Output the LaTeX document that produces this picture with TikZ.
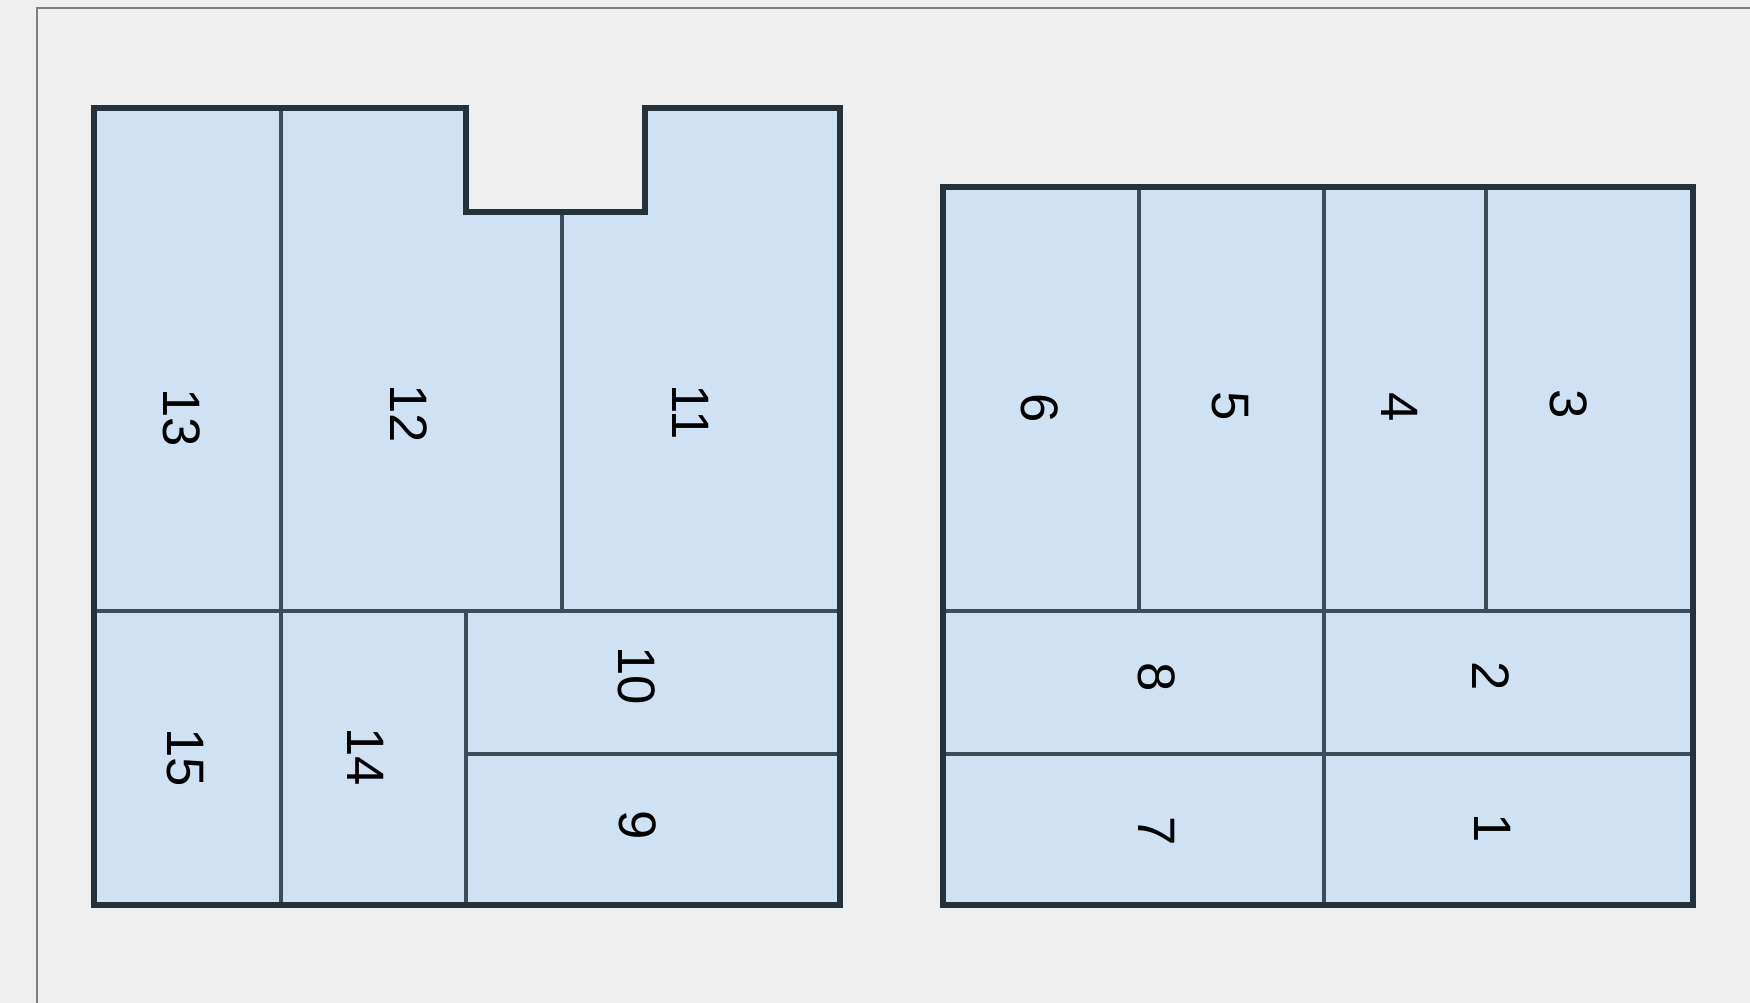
\documentclass[tikz,border=0pt]{standalone}
\usepackage{fontspec}
\setmainfont{Liberation Sans}
\usepackage{xcolor}
\usepackage{tikz}
\usetikzlibrary{positioning,calc}

\definecolor{paper}{HTML}{EFEFEF}
\definecolor{roomfill}{HTML}{CEE2F3}
\definecolor{wall}{HTML}{25323C}
\definecolor{partition}{HTML}{3C4C58}
\definecolor{framegrey}{HTML}{7E7E7E}

\begin{document}
\begin{tikzpicture}[every node/.style={font=\fontsize{15}{15}\selectfont, align=center}]
  \tikzset{
    outerwall/.style={draw=wall, line width=1.5pt, fill=roomfill, line join=miter},
    innerwall/.style={draw=partition, line width=1.05pt},
    roomlabel/.style={rotate=-90, inner sep=0pt}
  }

  % page and frame
  \fill[paper] (0,0) rectangle (17.5,10.03);
  \useasboundingbox (0,0) rectangle (17.5,10.03);
  \draw[framegrey, line width=0.7pt] (0.37,0) -- (0.37,9.95) -- (17.5,9.95);

  % left block with notch
  \draw[outerwall] (0.94,0.98) -- (0.94,8.95) -- (4.66,8.95) -- (4.66,7.91)
      -- (6.45,7.91) -- (6.45,8.95) -- (8.40,8.95) -- (8.40,0.98) -- cycle;
  \draw[innerwall] (2.81,0.98) -- (2.81,8.95);
  \draw[innerwall] (0.94,3.92) -- (8.40,3.92);
  \draw[innerwall] (5.62,3.92) -- (5.62,7.91);
  \draw[innerwall] (4.66,0.98) -- (4.66,3.92);
  \draw[innerwall] (4.66,2.49) -- (8.40,2.49);

  % right block
  \draw[outerwall] (9.43,0.98) rectangle (16.93,8.16);
  \draw[innerwall] (11.39,3.92) -- (11.39,8.16);
  \draw[innerwall] (13.24,0.98) -- (13.24,8.16);
  \draw[innerwall] (14.86,3.92) -- (14.86,8.16);
  \draw[innerwall] (9.43,3.92) -- (16.93,3.92);
  \draw[innerwall] (9.43,2.49) -- (16.93,2.49);

  % redraw outline over partitions
  \draw[outerwall, fill=none] (0.94,0.98) -- (0.94,8.95) -- (4.66,8.95) -- (4.66,7.91)
      -- (6.45,7.91) -- (6.45,8.95) -- (8.40,8.95) -- (8.40,0.98) -- cycle;
  \draw[outerwall, fill=none] (9.43,0.98) rectangle (16.93,8.16);

  % room numbers
  \node[roomlabel] (r13) at (1.82,5.85) {13};
  \node[roomlabel] (r12) at (4.09,5.89) {12};
  \node[roomlabel] (r11) at (6.91,5.91) {11};
  \node[roomlabel] (r15) at (1.85,2.45) {15};
  \node[roomlabel] (r14) at (3.66,2.46) {14};
  \node[roomlabel] (r10) at (6.37,3.27) {10};
  \node[roomlabel] (r9)  at (6.38,1.78) {9};

  \node[roomlabel] (r6) at (10.40,5.95) {6};
  \node[roomlabel] (r5) at (12.30,5.97) {5};
  \node[roomlabel] (r4) at (14.00,5.96) {4};
  \node[roomlabel] (r3) at (15.69,5.99) {3};
  \node[roomlabel] (r8) at (11.57,3.26) {8};
  \node[roomlabel] (r2) at (14.91,3.27) {2};
  \node[roomlabel] (r7) at (11.57,1.72) {7};
  \node[roomlabel] (r1) at (14.93,1.75) {1};
\end{tikzpicture}
\end{document}
